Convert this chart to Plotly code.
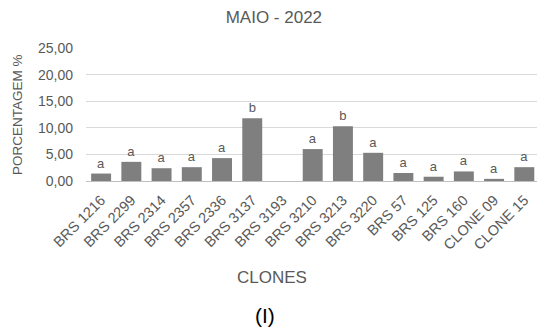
import plotly.graph_objects as go

categories = ["BRS 1216", "BRS 2299", "BRS 2314", "BRS 2357", "BRS 2336", "BRS 3137",
              "BRS 3193", "BRS 3210", "BRS 3213", "BRS 3220", "BRS 57", "BRS 125",
              "BRS 160", "CLONE 09", "CLONE 15"]
values = [1.4, 3.6, 2.4, 2.6, 4.3, 11.8, 0.0, 6.0, 10.3, 5.3, 1.5, 0.8, 1.8, 0.4, 2.6]
letters = ["a", "a", "a", "a", "a", "b", "", "a", "b", "a", "a", "a", "a", "a", "a"]
y_ticks = [0, 5, 10, 15, 20, 25]
y_tick_labels = ["0,00", "5,00", "10,00", "15,00", "20,00", "25,00"]

gray_text = "#595959"
font_family = "Liberation Sans, Arial, sans-serif"

fig = go.Figure()
fig.add_trace(go.Bar(
    x=categories, y=values,
    marker=dict(color="#7f7f7f", line=dict(width=0)),
    text=letters, textposition="outside", cliponaxis=False,
    textfont=dict(size=13, color=gray_text, family=font_family),
    width=0.66,
))

fig.update_layout(
    width=537, height=335,
    margin=dict(l=86, r=0, t=48, b=154),
    paper_bgcolor="white", plot_bgcolor="white",
    showlegend=False,
    font=dict(family=font_family, color=gray_text),
    title=dict(text="MAIO - 2022", x=0.51, xanchor="center", y=0.95, yanchor="middle",
               font=dict(size=17, color=gray_text, family=font_family)),
    xaxis=dict(range=[-0.5, 14.42], tickangle=-45, tickfont=dict(size=14.5, color=gray_text),
               showgrid=False, showline=True, linecolor="#bfbfbf", linewidth=1,
               ticks="", zeroline=False, ticklabelstandoff=4),
    yaxis=dict(range=[0, 25], tickvals=y_ticks, ticktext=y_tick_labels,
               tickfont=dict(size=14, color=gray_text), showgrid=True,
               gridcolor="#d9d9d9", gridwidth=1, zeroline=False, showline=False,
               ticks="", ticklabelstandoff=12),
    bargap=0.34,
)

fig.add_annotation(text="PORCENTAGEM %", xref="paper", yref="paper", x=-0.152, y=0.5,
                   textangle=-90, showarrow=False, xanchor="center", yanchor="middle",
                   font=dict(size=13.5, color=gray_text, family=font_family))
fig.add_annotation(text="CLONES", xref="paper", yref="paper", x=0.412, y=-0.729,
                   showarrow=False, xanchor="center", yanchor="middle",
                   font=dict(size=17, color=gray_text, family=font_family))
fig.add_annotation(text="(I)", xref="paper", yref="paper", x=0.398, y=-1.015,
                   showarrow=False, xanchor="center", yanchor="middle",
                   font=dict(size=21, color="#000000", family=font_family))

fig.write_html("out.html")
